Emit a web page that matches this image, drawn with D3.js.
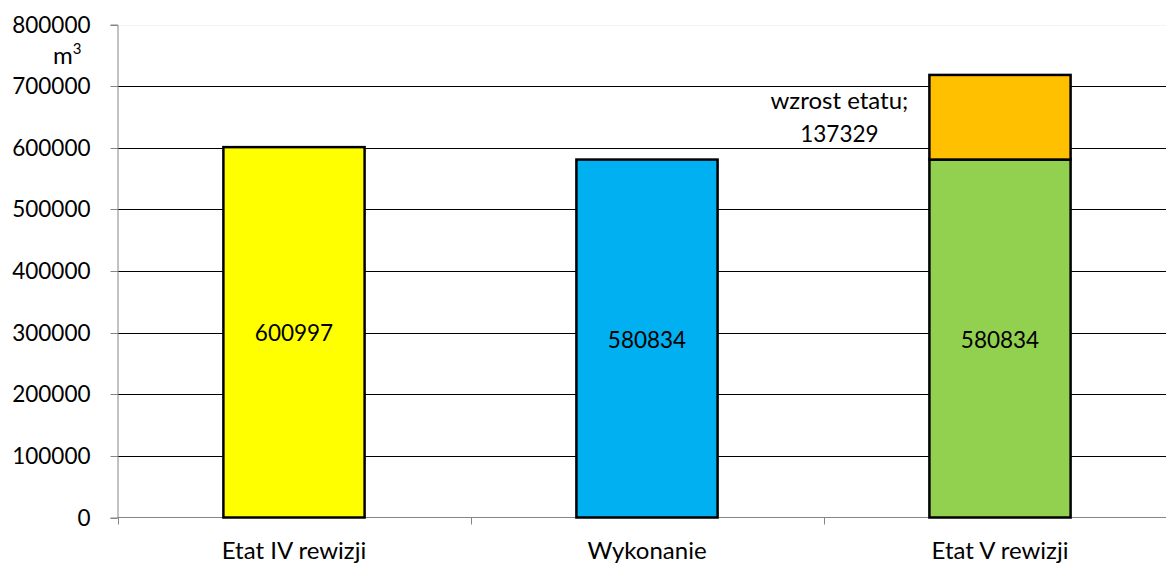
<!DOCTYPE html>
<html><head><meta charset="utf-8">
<script src="https://cdn.jsdelivr.net/npm/d3@7"></script>
<style>body{margin:0;background:#fff}svg{display:block}text{font-family:Lato,"Open Sans",sans-serif;fill:#000}</style>
</head><body>
<svg id="c" width="1166" height="564"></svg>
<script>
const categories = ["Etat IV rewizji", "Wykonanie", "Etat V rewizji"];
const baseValues = [600997, 580834, 580834];
const increaseValues = [0, 0, 137329];
const baseColors = ["#FFFF00", "#00B0F0", "#92D050"];
const increaseColor = "#FFC000";
const increaseLabel = ["wzrost etatu;", "137329"];
const yTicks = [0, 100000, 200000, 300000, 400000, 500000, 600000, 700000, 800000];
const unitLabel = "m";

(function () {
const svg = d3.select("#c");
const numSize = 22.5, txtSize = 24;
const pLeft = 117.5, pRight = 1176.5, pTop = 24.5, pBottom = 517.5;
const x = d3.scaleBand().domain(categories).range([pLeft, pRight]).paddingInner(0.6).paddingOuter(0.3);
const xb = d3.scaleBand().domain(categories).range([pLeft, pRight]);
const y = d3.scaleLinear().domain([0, 800000]).range([pBottom, pTop]);

// gridlines
svg.append("g").selectAll("line").data(yTicks.filter(d => d > 0)).join("line")
  .attr("x1", pLeft).attr("x2", 1166).attr("y1", d => Math.round(y(d)) + 0.5).attr("y2", d => Math.round(y(d)) + 0.5)
  .attr("stroke", d => d === 800000 ? "#f4f4f4" : "#000").attr("stroke-width", 1);

// y axis
const ya = d3.axisLeft(y).tickValues(yTicks).tickSize(7).tickPadding(20).tickFormat(d3.format("d"));
const yg = svg.append("g").attr("transform", `translate(${pLeft},0)`).call(ya);
yg.select(".domain").attr("stroke", "#868686");
yg.selectAll(".tick line").attr("stroke", "#868686");
yg.selectAll(".tick text").attr("font-size", numSize).attr("font-family", "Lato,'Open Sans',sans-serif").attr("fill", "#000").attr("dy", "0.35em");
yg.selectAll(".tick").attr("transform", d => `translate(0,${Math.round(y(d)) + 0.5})`);

// x axis
svg.append("line").attr("x1", pLeft).attr("x2", 1166).attr("y1", pBottom).attr("y2", pBottom).attr("stroke", "#868686");
svg.append("g").selectAll("line").data(categories).join("line")
  .attr("x1", d => Math.round(xb(d)) + 0.5).attr("x2", d => Math.round(xb(d)) + 0.5)
  .attr("y1", pBottom).attr("y2", pBottom + 7).attr("stroke", "#868686");
svg.append("g").selectAll("text").data(categories).join("text")
  .attr("x", d => x(d) + x.bandwidth() / 2).attr("y", 559)
  .attr("text-anchor", "middle").attr("font-size", txtSize).text(d => d);

// unit label
const u = svg.append("text").attr("x", 53).attr("y", 64).attr("font-size", txtSize).text(unitLabel);
u.append("tspan").attr("font-size", 15).attr("dy", -10).text("3");

// bars
const bars = svg.append("g");
bars.selectAll("rect.base").data(categories).join("rect")
  .attr("x", d => x(d)).attr("width", x.bandwidth())
  .attr("y", (d, i) => y(baseValues[i])).attr("height", (d, i) => pBottom - y(baseValues[i]))
  .attr("fill", (d, i) => baseColors[i]).attr("stroke", "#000").attr("stroke-width", 2.5);
const inc = categories.filter((d, i) => increaseValues[i] > 0);
bars.append("g").selectAll("rect").data(inc).join("rect")
  .attr("x", d => x(d)).attr("width", x.bandwidth())
  .attr("y", d => { const i = categories.indexOf(d); return y(baseValues[i] + increaseValues[i]); })
  .attr("height", d => { const i = categories.indexOf(d); return y(baseValues[i]) - y(baseValues[i] + increaseValues[i]); })
  .attr("fill", increaseColor).attr("stroke", "#000").attr("stroke-width", 2.5);

// value labels
svg.append("g").selectAll("text").data(categories).join("text")
  .attr("x", d => x(d) + x.bandwidth() / 2)
  .attr("y", (d, i) => (y(baseValues[i]) + pBottom) / 2 + 9)
  .attr("text-anchor", "middle").attr("font-size", numSize)
  .text((d, i) => baseValues[i]);

// increase label
const ci = 2;
const lx = x(categories[ci]) - 90;
const ly = (y(baseValues[ci]) + y(baseValues[ci] + increaseValues[ci])) / 2;
svg.append("text").attr("x", lx).attr("y", ly - 8).attr("text-anchor", "middle").attr("font-size", txtSize).text(increaseLabel[0]);
svg.append("text").attr("x", lx).attr("y", ly + 25).attr("text-anchor", "middle").attr("font-size", numSize).text(increaseLabel[1]);
})();
</script>
</body></html>
